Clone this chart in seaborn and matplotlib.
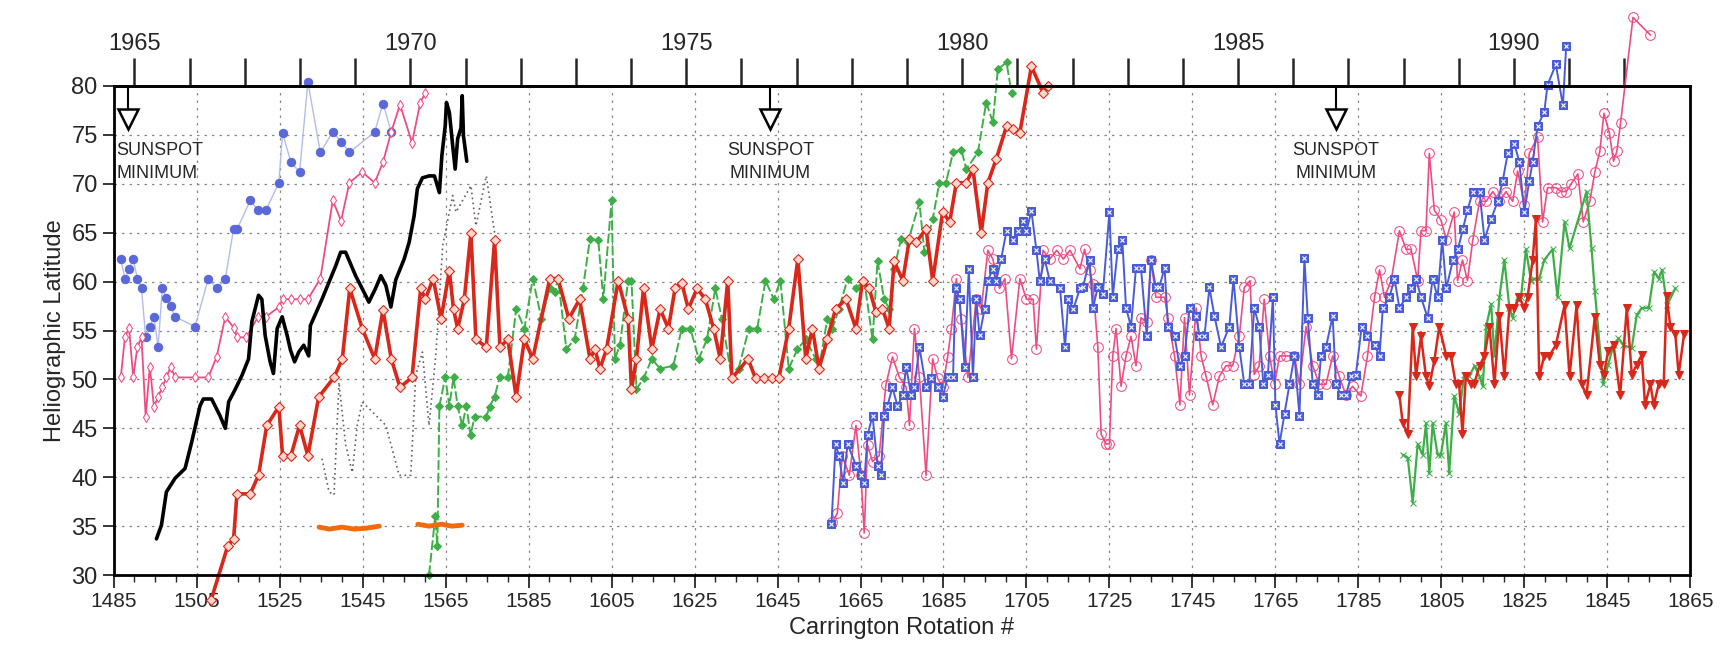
import matplotlib
matplotlib.use("Agg")
import matplotlib.pyplot as plt
import seaborn as sns
import numpy as np
import pandas as pd

# ---- data: (carrington rotation, heliographic latitude) ----
blue_dots_cr = [1486.7, 1487.7, 1488.7, 1489.7, 1490.7, 1491.7, 1492.7, 1493.7, 1494.7, 1495.7, 1496.7, 1497.7,
                1498.7, 1499.8, 1504.6, 1507.8, 1509.8, 1511.9, 1513.9, 1514.8, 1517.9, 1519.8, 1521.7, 1524.8,
                1525.7, 1527.7, 1529.8, 1531.8, 1534.8, 1537.8, 1539.8, 1541.8, 1547.9, 1549.9, 1551.9]
blue_dots_lat = [62.3, 60.3, 61.3, 62.3, 60.3, 59.3, 54.3, 55.4, 56.4, 53.3, 59.3, 58.3,
                 57.5, 56.4, 55.4, 60.3, 59.3, 60.3, 65.4, 65.4, 68.3, 67.3, 67.3, 70.1,
                 75.2, 72.2, 71.2, 80.4, 73.2, 75.3, 74.3, 73.2, 75.3, 78.2, 75.3]

pink_diam_cr = [1486.7, 1487.7, 1488.7, 1489.7, 1490.7, 1491.7, 1492.7, 1493.7, 1494.7, 1495.7, 1496.7, 1497.7,
                1498.7, 1499.8, 1504.6, 1507.8, 1509.8, 1511.9, 1513.9, 1514.8, 1516.9, 1519.8, 1521.7, 1524.8,
                1525.7, 1527.7, 1529.8, 1531.8, 1534.8, 1537.8, 1539.8, 1541.8, 1544.9, 1547.9, 1549.9, 1551.9,
                1554.0, 1556.9, 1558.9, 1560.1]
pink_diam_lat = [50.2, 54.3, 55.3, 50.2, 53.3, 54.3, 46.2, 51.3, 47.2, 48.2, 49.2, 50.2,
                 51.3, 50.2, 50.2, 50.2, 52.3, 56.4, 55.3, 54.3, 54.3, 56.4, 56.4, 57.4,
                 58.2, 58.2, 58.2, 58.2, 60.3, 68.3, 66.2, 70.1, 71.2, 70.1, 72.2, 75.3,
                 78.1, 74.2, 78.3, 79.3]

black_cr = [1495.3, 1496.5, 1497.7, 1499.8, 1502.2, 1503.8, 1505.8, 1506.6, 1508.6, 1510.6, 1511.9, 1512.7,
            1514.3, 1515.9, 1517.5, 1518.3, 1519.9, 1520.7, 1521.5, 1522.7, 1523.5, 1524.4, 1525.6, 1526.8,
            1527.6, 1528.6, 1529.6, 1530.8, 1532.0, 1532.4, 1535.2, 1538.5, 1539.7, 1540.9, 1543.3, 1545.7,
            1546.5, 1548.1, 1549.4, 1550.6, 1551.8, 1553.0, 1555.0, 1556.2, 1557.4, 1558.2, 1559.4, 1561.0,
            1562.3, 1563.5, 1564.1, 1564.9, 1565.2, 1565.9, 1566.7, 1567.3, 1567.9, 1568.7, 1569.0, 1569.3,
            1570.1]
black_lat = [33.7, 35.1, 38.5, 39.9, 40.9, 43.6, 47.3, 48.0, 48.0, 46.3, 45.0, 47.7,
             49.0, 50.4, 52.1, 55.9, 58.6, 58.2, 54.5, 51.8, 50.6, 55.2, 56.4, 54.5,
             53.0, 51.8, 52.8, 53.5, 52.4, 55.5, 58.2, 61.6, 63.0, 63.0, 60.6, 58.6,
             57.9, 59.3, 60.6, 59.6, 57.4, 60.2, 62.3, 64.0, 66.7, 69.5, 70.6, 70.8,
             70.8, 69.1, 72.9, 75.9, 78.3, 77.3, 73.9, 71.5, 74.6, 75.7, 79.0, 74.9,
             72.3]

dotted_cr = [1535.2, 1536.9, 1538.1, 1539.3, 1540.9, 1542.5, 1543.7, 1544.9, 1547.3, 1550.6, 1553.8, 1556.6,
             1557.8, 1559.4, 1561.0, 1562.7, 1564.3, 1566.7, 1567.5, 1571.1, 1572.3, 1574.8, 1576.8]
dotted_lat = [41.9, 38.5, 38.2, 49.7, 43.3, 40.5, 45.3, 47.7, 46.7, 45.3, 40.2, 40.2,
              50.4, 52.8, 45.3, 52.8, 63.7, 68.8, 67.1, 69.8, 65.7, 70.8, 65.0]

red_diam_cr = [1508.5, 1512.5, 1513.9, 1514.7, 1517.9, 1519.9, 1521.9, 1524.8, 1525.7, 1527.7, 1529.8, 1531.8,
               1534.4, 1538.1, 1540.1, 1541.9, 1544.9, 1547.9, 1549.9, 1551.9, 1554.0, 1556.9, 1559.0, 1560.1,
               1562.0, 1563.9, 1565.9, 1566.9, 1567.9, 1569.5, 1571.1, 1572.3, 1574.8, 1576.8, 1578.1, 1580.0,
               1582.0, 1584.0, 1586.0, 1590.1, 1592.1, 1594.7, 1597.3, 1599.8, 1601.0, 1602.2, 1603.8, 1606.6,
               1609.0, 1609.8, 1611.0, 1612.7, 1614.7, 1616.7, 1618.7, 1620.3, 1621.9, 1623.5, 1625.6, 1627.6,
               1629.6, 1631.2, 1633.0, 1634.0, 1637.9, 1639.7, 1641.7, 1643.7, 1645.3, 1647.7, 1649.9, 1651.8,
               1653.4, 1655.0, 1657.0, 1659.0, 1661.5, 1663.9, 1665.5, 1667.1, 1668.7, 1670.3, 1671.9, 1673.1,
               1675.2, 1676.8, 1678.4, 1680.8, 1682.4, 1684.8, 1686.5, 1688.1, 1690.5, 1692.1, 1694.1, 1695.7,
               1697.7, 1700.2, 1701.8, 1703.4, 1706.2, 1709.0, 1710.2]
red_diam_lat = [27.5, 33.0, 33.7, 38.3, 38.3, 40.2, 45.3, 47.2, 42.2, 42.2, 45.3, 42.2,
                48.2, 50.2, 52.1, 59.3, 55.2, 52.1, 57.1, 52.1, 49.2, 50.2, 59.3, 58.2,
                60.3, 56.2, 61.1, 57.2, 55.2, 58.2, 65.0, 54.1, 53.3, 64.2, 53.3, 54.1,
                48.2, 54.1, 52.1, 60.3, 60.3, 56.2, 58.2, 52.1, 53.1, 51.1, 53.1, 60.1,
                56.2, 49.0, 52.1, 59.3, 53.1, 57.2, 55.2, 59.3, 59.9, 57.2, 59.3, 58.2,
                55.2, 52.1, 60.1, 50.1, 52.1, 50.1, 50.1, 50.1, 50.1, 55.2, 62.3, 52.1,
                55.2, 51.1, 54.1, 57.2, 58.2, 55.2, 60.1, 59.3, 56.9, 57.2, 55.2, 62.1,
                60.1, 64.4, 64.0, 65.4, 60.1, 67.1, 66.1, 70.1, 70.1, 71.5, 65.0, 70.1,
                72.5, 75.9, 75.6, 75.2, 82.0, 79.3, 80.0]

green_diam_cr = [1561.0, 1562.5, 1563.0, 1563.5, 1564.9, 1565.9, 1566.9, 1567.9, 1569.0, 1570.0, 1571.0, 1572.0,
                 1574.8, 1575.6, 1576.8, 1578.0, 1580.0, 1582.0, 1584.0, 1586.0, 1588.1, 1590.1, 1591.3, 1592.1,
                 1594.1, 1596.1, 1598.1, 1599.8, 1601.8, 1603.0, 1605.0, 1605.8, 1607.0, 1609.0, 1609.8, 1611.0,
                 1612.7, 1614.7, 1616.7, 1619.9, 1621.9, 1624.0, 1626.0, 1628.0, 1630.0, 1631.6, 1634.0, 1635.6,
                 1638.1, 1640.1, 1642.1, 1644.1, 1645.7, 1647.7, 1649.8, 1651.8, 1654.2, 1655.0, 1657.0, 1658.2,
                 1659.8, 1661.9, 1663.9, 1665.9, 1667.9, 1669.1, 1670.7, 1671.9, 1673.1, 1674.8, 1676.4, 1679.2,
                 1680.4, 1682.4, 1684.0, 1685.6, 1687.3, 1689.3, 1690.5, 1693.3, 1695.3, 1696.9, 1698.1, 1700.2,
                 1701.4]
green_diam_lat = [30.0, 36.0, 33.0, 47.3, 50.2, 47.3, 50.2, 47.3, 45.3, 47.3, 44.3, 46.2,
                  46.2, 47.2, 48.2, 50.2, 50.2, 57.2, 55.2, 60.3, 56.2, 59.3, 58.9, 60.3,
                  53.1, 54.1, 59.3, 64.4, 64.2, 58.2, 68.3, 52.1, 53.5, 60.1, 60.1, 49.0,
                  50.1, 52.1, 51.1, 51.4, 55.2, 55.2, 52.1, 54.1, 59.3, 56.2, 50.1, 51.1,
                  55.2, 55.2, 60.1, 58.2, 60.1, 51.1, 53.1, 54.1, 52.1, 51.1, 56.2, 55.2,
                  57.2, 60.3, 59.3, 60.1, 54.1, 62.1, 58.2, 57.2, 61.3, 64.4, 64.0, 68.1,
                  63.0, 66.4, 70.1, 70.1, 73.2, 73.5, 71.5, 73.2, 78.3, 76.3, 81.7, 82.4,
                  79.3]

blue_sq_cr = [1658.0, 1659.0, 1659.8, 1660.8, 1661.9, 1663.9, 1665.1, 1665.9, 1666.7, 1667.9, 1669.1, 1669.9,
              1670.7, 1671.5, 1672.7, 1673.9, 1675.2, 1676.0, 1677.2, 1678.0, 1679.2, 1680.8, 1682.0, 1683.6,
              1684.8, 1686.0, 1687.3, 1687.9, 1688.9, 1690.1, 1691.1, 1692.1, 1692.9, 1693.7, 1694.9, 1695.7,
              1696.9, 1697.7, 1698.9, 1700.2, 1701.8, 1703.0, 1704.2, 1705.0, 1706.2, 1707.4, 1708.2, 1709.4,
              1710.6, 1713.1, 1714.3, 1715.1, 1716.3, 1717.9, 1718.6, 1720.2, 1721.0, 1722.2, 1723.4, 1725.0,
              1725.8, 1727.0, 1728.1, 1729.0, 1730.2, 1731.4, 1732.6, 1734.0, 1735.0, 1736.2, 1737.0, 1738.3,
              1739.1, 1740.7, 1741.9, 1743.1, 1744.3, 1745.9, 1746.7, 1747.9, 1749.1, 1750.3, 1751.9, 1753.9,
              1754.9, 1756.3, 1757.5, 1758.7, 1759.9, 1761.1, 1762.1, 1763.2, 1764.4, 1765.0, 1766.0, 1767.2,
              1768.4, 1769.6, 1770.8, 1772.0, 1772.8, 1774.0, 1775.2, 1776.0, 1777.2, 1778.8, 1779.6, 1780.8,
              1782.0, 1783.2, 1784.4, 1785.8, 1787.2, 1788.9, 1790.1, 1790.9, 1792.5, 1793.7, 1794.9, 1796.5,
              1797.7, 1798.9, 1800.1, 1801.7, 1802.9, 1804.1, 1805.2, 1806.2, 1807.8, 1809.0, 1810.2, 1811.3,
              1812.6, 1814.2, 1815.4, 1817.0, 1818.6, 1819.8, 1821.0, 1822.6, 1823.8, 1825.0, 1826.2, 1827.0,
              1828.2, 1829.8, 1830.6, 1832.6, 1834.3, 1835.1]
blue_sq_lat = [35.2, 43.4, 42.2, 39.4, 43.4, 41.2, 40.2, 39.4, 44.3, 46.3, 41.2, 40.2,
               46.3, 47.3, 49.2, 47.3, 48.4, 51.3, 48.4, 49.2, 53.3, 49.2, 50.1, 49.2,
               48.2, 50.2, 50.2, 59.3, 58.2, 51.3, 61.3, 50.2, 58.2, 54.5, 57.2, 60.1,
               61.3, 60.1, 62.3, 65.2, 64.2, 65.2, 66.2, 65.2, 67.2, 63.2, 60.1, 62.3,
               60.1, 59.3, 53.3, 58.2, 57.2, 59.3, 59.4, 62.2, 57.3, 59.4, 58.7, 67.1,
               58.4, 63.3, 64.3, 57.3, 55.4, 61.4, 61.4, 54.4, 62.2, 59.4, 59.4, 61.4,
               55.4, 54.4, 51.4, 52.4, 57.3, 56.5, 54.4, 54.4, 59.4, 56.5, 53.3, 55.4,
               60.3, 53.3, 49.5, 49.5, 57.3, 55.4, 49.5, 50.5, 58.4, 47.4, 43.4, 46.5,
               49.5, 52.4, 46.3, 62.4, 56.3, 49.5, 48.4, 52.4, 53.3, 56.5, 49.5, 48.4,
               48.4, 50.3, 50.5, 55.4, 54.4, 53.5, 52.4, 57.3, 58.4, 60.3, 57.3, 58.4,
               59.3, 60.3, 58.4, 56.3, 60.3, 58.4, 64.3, 59.3, 62.2, 63.3, 65.4, 67.3,
               69.2, 69.2, 64.3, 66.4, 68.2, 70.3, 73.1, 74.1, 72.2, 67.1, 70.3, 72.2,
               75.9, 77.3, 80.1, 82.2, 78.0, 84.1]

pink_circ_cr = [1658.2, 1659.4, 1660.6, 1662.3, 1663.9, 1665.1, 1665.9, 1666.7, 1667.9, 1669.5, 1671.1, 1672.7,
                1674.4, 1676.0, 1676.8, 1678.0, 1679.2, 1680.8, 1682.4, 1683.6, 1684.8, 1686.0, 1686.9, 1688.1,
                1689.3, 1690.9, 1692.9, 1694.1, 1695.7, 1696.9, 1698.5, 1699.8, 1701.4, 1703.4, 1705.0, 1706.6,
                1707.4, 1709.0, 1710.6, 1712.3, 1713.9, 1715.5, 1717.9, 1719.0, 1720.2, 1721.0, 1722.2, 1723.0,
                1724.2, 1725.0, 1725.8, 1726.6, 1727.8, 1729.0, 1730.2, 1731.4, 1732.6, 1734.0, 1735.0, 1736.2,
                1738.3, 1739.1, 1740.7, 1742.0, 1743.1, 1744.3, 1745.9, 1747.1, 1748.3, 1749.9, 1751.5, 1753.1,
                1754.7, 1756.3, 1757.5, 1758.9, 1759.9, 1761.1, 1762.3, 1763.6, 1764.8, 1766.0, 1767.6, 1769.6,
                1770.8, 1772.4, 1774.0, 1775.6, 1777.2, 1778.8, 1780.4, 1782.0, 1783.6, 1785.6, 1787.2, 1788.9,
                1790.1, 1791.3, 1792.9, 1794.9, 1796.5, 1797.7, 1799.3, 1800.1, 1801.3, 1802.1, 1803.3, 1804.9,
                1806.2, 1808.1, 1808.9, 1810.1, 1811.3, 1812.6, 1814.2, 1815.8, 1817.4, 1819.0, 1820.6, 1822.2,
                1823.4, 1825.0, 1826.2, 1828.2, 1829.4, 1830.6, 1832.6, 1833.9, 1835.1, 1836.3, 1837.9, 1839.2,
                1840.8, 1842.0, 1843.2, 1844.2, 1845.5, 1846.5, 1847.3, 1848.2, 1851.2, 1855.4]
pink_circ_lat = [35.4, 36.3, 42.2, 40.2, 45.3, 40.2, 34.3, 43.3, 41.6, 42.2, 49.4, 52.3,
                 50.2, 49.2, 45.3, 55.2, 50.2, 40.2, 52.1, 50.1, 49.2, 52.3, 55.2, 60.3,
                 56.2, 50.2, 58.2, 57.2, 63.2, 62.3, 59.3, 60.3, 52.1, 60.3, 58.2, 58.2,
                 53.1, 63.2, 62.3, 63.2, 62.3, 63.2, 61.3, 63.3, 61.2, 59.8, 53.3, 44.4,
                 43.4, 43.4, 52.4, 55.2, 49.3, 52.4, 54.4, 51.4, 56.3, 55.9, 62.2, 58.4,
                 58.4, 56.3, 52.4, 47.4, 56.3, 48.4, 57.3, 52.4, 50.3, 47.4, 50.3, 51.4,
                 51.4, 54.4, 59.4, 60.1, 50.5, 51.4, 58.2, 52.4, 49.5, 52.4, 52.4, 52.4,
                 49.5, 55.4, 51.4, 49.5, 49.5, 52.4, 50.3, 48.4, 49.3, 48.3, 52.4, 58.4,
                 61.2, 58.4, 60.1, 65.2, 63.3, 63.3, 60.1, 65.2, 65.2, 73.1, 67.3, 66.3,
                 64.3, 67.1, 60.1, 62.2, 60.1, 64.3, 68.2, 68.2, 69.2, 68.2, 69.2, 68.2,
                 71.3, 67.8, 73.1, 74.8, 66.1, 69.6, 69.6, 69.2, 69.2, 70.0, 71.0, 66.1,
                 68.2, 71.2, 73.3, 77.2, 75.2, 72.3, 73.3, 76.2, 87.0, 85.2]

red_tri_cr = [1794.9, 1795.7, 1796.9, 1798.1, 1798.9, 1800.1, 1801.3, 1802.1, 1803.3, 1804.5, 1806.2, 1807.3,
              1808.5, 1809.3, 1810.1, 1810.9, 1812.1, 1812.9, 1814.2, 1815.4, 1816.6, 1817.8, 1819.0, 1820.2,
              1821.4, 1822.6, 1823.8, 1825.0, 1825.8, 1827.0, 1827.8, 1828.6, 1829.8, 1831.0, 1832.6, 1834.7,
              1835.9, 1837.6, 1838.8, 1840.0, 1842.0, 1843.2, 1844.2, 1845.2, 1846.5, 1848.1, 1849.7, 1850.9,
              1852.1, 1853.3, 1854.1, 1855.4, 1856.2, 1857.4, 1858.6, 1859.3, 1860.2, 1861.4, 1862.2, 1863.5]
red_tri_lat = [48.4, 45.5, 44.4, 55.4, 50.3, 54.4, 50.3, 49.3, 51.9, 55.4, 52.4, 52.4,
               49.5, 49.5, 44.4, 50.3, 49.5, 49.5, 51.4, 52.4, 55.4, 49.5, 56.5, 50.3,
               57.3, 57.3, 58.4, 57.3, 58.4, 62.2, 66.4, 50.3, 52.4, 52.4, 53.5, 57.6,
               50.3, 57.6, 49.5, 48.4, 56.4, 51.5, 50.5, 52.9, 53.5, 48.4, 57.3, 50.5,
               51.5, 52.5, 47.4, 49.5, 47.4, 49.5, 49.5, 58.5, 55.4, 54.6, 50.5, 54.6]

green_x_cr = [1795.7, 1796.9, 1798.1, 1799.3, 1800.5, 1801.3, 1802.1, 1802.9, 1804.1, 1804.9, 1806.1, 1806.9,
              1808.1, 1809.3, 1810.5, 1811.7, 1813.0, 1814.2, 1815.0, 1815.8, 1817.0, 1817.8, 1819.0, 1820.2,
              1821.4, 1822.2, 1823.4, 1824.2, 1825.4, 1826.6, 1827.4, 1828.6, 1829.8, 1831.8, 1833.0, 1834.7,
              1835.9, 1840.0, 1841.2, 1842.0, 1844.0, 1845.2, 1846.5, 1847.7, 1848.9, 1850.9, 1852.1, 1853.3,
              1855.0, 1856.3, 1857.4, 1858.2, 1859.4, 1861.4]
green_x_lat = [42.3, 42.0, 37.4, 43.4, 42.3, 45.5, 40.4, 45.5, 42.3, 42.3, 45.5, 40.4,
               48.3, 46.5, 50.5, 50.3, 51.4, 50.3, 49.3, 55.4, 57.7, 52.4, 58.4, 62.2,
               57.3, 56.3, 58.4, 58.4, 63.3, 60.1, 60.3, 60.3, 62.2, 63.3, 58.4, 66.1,
               63.4, 69.2, 63.4, 59.0, 49.5, 51.5, 53.5, 54.2, 53.5, 53.2, 56.6, 57.3,
               57.3, 61.0, 60.3, 61.2, 57.6, 59.3]

orange_cr = [[1534.5, 1537.0, 1540.0, 1543.0, 1546.0, 1549.0], [1558.3, 1561.0, 1564.0, 1566.5, 1569.0]]
orange_lat = [[34.9, 34.7, 34.9, 34.7, 34.8, 35.0], [35.2, 35.0, 35.2, 35.0, 35.1]]

sunspot_min_cr = [1488.5, 1643.3, 1779.6]

RED = "#d8281c"
GREEN = "#3fae49"
BLUE = "#4a5bd6"
PINK = "#ec4d82"

sns.set_theme(style="white")
plt.rcParams["font.family"] = ["Liberation Sans", "DejaVu Sans"]

fig = plt.figure(figsize=(17.23, 6.61), dpi=100)
ax = fig.add_axes([0.066, 0.13, 0.915, 0.74])


def draw(xs, ys, **kw):
    df = pd.DataFrame({"cr": xs, "lat": ys})
    sns.lineplot(data=df, x="cr", y="lat", sort=False, estimator=None, ax=ax, clip_on=False, **kw)


draw(blue_dots_cr, blue_dots_lat, color="#b3bde8", lw=1, marker="o", ms=6, mfc="#5a68d8", mec="#5a68d8")
draw(pink_diam_cr, pink_diam_lat, color=PINK, lw=1.3, marker="d", ms=5, mfc="white", mec=PINK)
draw(dotted_cr, dotted_lat, color="#6e5a66", lw=1.2, linestyle=(0, (1, 2)))
draw(black_cr, black_lat, color="black", lw=2.6)
draw(green_diam_cr, green_diam_lat, color=GREEN, lw=1.4, linestyle=(0, (5, 1.5)), marker="D", ms=4.5,
     mfc=GREEN, mec=GREEN)
draw(red_diam_cr, red_diam_lat, color=RED, lw=2.6, marker="D", ms=5.5, mfc="#fbd6cc", mec=RED, mew=0.8)
draw(pink_circ_cr, pink_circ_lat, color=PINK, lw=1.2, marker="o", ms=7, mfc="none", mec=PINK)
draw(blue_sq_cr, blue_sq_lat, color=BLUE, lw=1.4, marker="s", ms=5.5, mfc=BLUE, mec=BLUE)
draw(blue_sq_cr, blue_sq_lat, color=BLUE, lw=0, marker="x", ms=3.5, mec="white", mew=0.8)
draw(green_x_cr, green_x_lat, color=GREEN, lw=1.6, marker="x", ms=5, mec=GREEN)
draw(red_tri_cr, red_tri_lat, color=RED, lw=1.8, marker="v", ms=6, mfc=RED, mec=RED)
for xs, ys in zip(orange_cr, orange_lat):
    draw(xs, ys, color="#f06a10", lw=3.5)

ax.set_xlim(1485, 1865)
ax.set_ylim(30, 80)
ax.set_xticks(np.arange(1485, 1866, 20))
ax.set_xticks(np.arange(1485, 1866, 5), minor=True)
ax.set_yticks(np.arange(30, 81, 5))
ax.grid(True, which="major", color="#888888", linestyle=(0, (2, 4)), lw=0.9)
ax.tick_params(axis="x", which="major", direction="out", length=9, width=1.3, labelsize=15, bottom=True)
ax.tick_params(axis="x", which="minor", direction="out", length=5, width=1, bottom=True)
ax.tick_params(axis="y", direction="out", length=8, width=1.3, labelsize=17, left=True)
for s in ax.spines.values():
    s.set_color("black")
    s.set_linewidth(2)
ax.set_xlabel("Carrington Rotation #", fontsize=17)
ax.set_ylabel("Heliographic Latitude", fontsize=17)

# year axis along the top
top = ax.secondary_xaxis("top", functions=(lambda c: 1965 + (c - 1490) / 13.3,
                                           lambda y: 1490 + (y - 1965) * 13.3))
years = np.arange(1965, 1993)
top.set_xticks(years, [str(y) if y % 5 == 0 else "" for y in years])
top.tick_params(direction="out", length=20, width=1.8, labelsize=17, pad=2)
top.spines["top"].set_linewidth(2)

# sunspot minimum markers
for i, c in enumerate(sunspot_min_cr):
    ax.plot([c, c], [80, 77.2], color="black", lw=1.5)
    ax.plot([c], [76.6], marker="v", ms=15, mfc="white", mec="black", mew=1.8)
    if i == 0:
        ax.text(1485.6, 72.2, "SUNSPOT\nMINIMUM", fontsize=13, ha="left", va="center", linespacing=1.5)
    else:
        ax.text(c, 72.2, "SUNSPOT\nMINIMUM", fontsize=13, ha="center", va="center", linespacing=1.5)

fig.savefig("out.png", dpi=100)
